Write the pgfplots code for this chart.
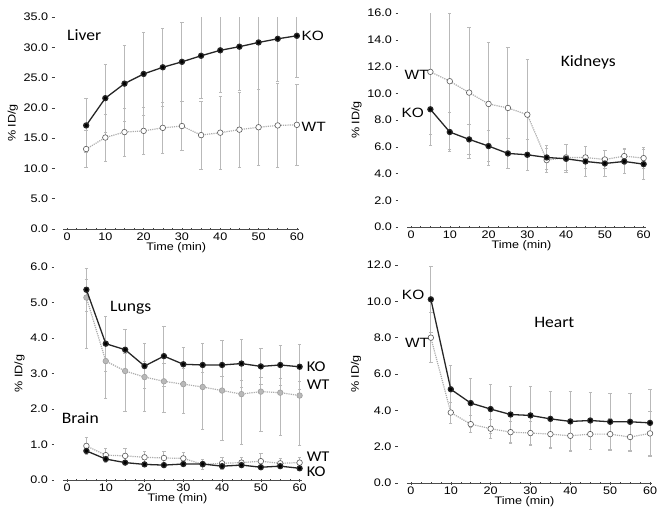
\documentclass[border=0pt]{standalone}
\usepackage{pgfplots}
\pgfplotsset{compat=1.18}
\usepackage{pgfplotstable}
\usepackage{fontspec}
\setmainfont{Liberation Sans}[FakeStretch=1.15]
\newfontfamily\carlito{Carlito}[FakeStretch=1.1]

\pgfplotstableread{
x y e
5 17.1 4.4
10 21.6 5.6
15 24.0 6.3
20 25.6 6.8
25 26.7 6.5
30 27.6 6.6
35 28.6 7.0
40 29.5 6.9
45 30.1 7.2
50 30.8 7.8
55 31.4 7.0
60 31.9 6.9
}\liverKO
\pgfplotstableread{
x y e
5 13.2 3.1
10 15.1 3.9
15 16.0 4.0
20 16.2 3.9
25 16.7 4.2
30 17.0 4.0
35 15.5 5.6
40 15.9 6.0
45 16.4 6.2
50 16.8 6.3
55 17.1 6.9
60 17.2 6.7
}\liverWT
\pgfplotstableread{
x y e
5 8.8 2.7
10 7.1 1.45
15 6.55 1.1
20 6.05 1.15
25 5.5 1.1
30 5.4 1.15
35 5.2 0.9
40 5.1 1.05
45 4.9 1.1
50 4.75 1.0
55 4.9 0.9
60 4.7 1.1
}\kidKO
\pgfplotstableread{
x y e
5 11.6 4.7
10 10.9 5.1
15 10.05 4.9
20 9.2 4.6
25 8.9 4.5
30 8.4 4.15
35 5.0 0.9
40 5.2 1.0
45 5.2 0.8
50 5.05 0.65
55 5.3 0.6
60 5.15 0.8
}\kidWT
\pgfplotstableread{
x y e
5 5.36 0.6
10 3.84 0.77
15 3.67 0.58
20 3.21 0.63
25 3.49 0.84
30 3.26 0.49
35 3.24 0.62
40 3.24 0.69
45 3.28 0.68
50 3.20 0.51
55 3.24 0.56
60 3.19 0.63
}\lungKO
\pgfplotstableread{
x y ep em
5 5.14 0.5 1.44
10 3.35 0.5 1.05
15 3.07 0.5 1.15
20 2.90 0.45 0.96
25 2.78 0.5 0.88
30 2.70 0.45 0.83
35 2.62 0.4 1.19
40 2.52 0.4 1.39
45 2.42 0.4 1.42
50 2.49 0.4 1.13
55 2.46 0.4 1.20
60 2.38 0.4 1.41
}\lungWT
\pgfplotstableread{
x y e
5 0.82 0.08
10 0.59 0.07
15 0.49 0.06
20 0.44 0.05
25 0.42 0.05
30 0.45 0.05
35 0.45 0.05
40 0.39 0.05
45 0.42 0.05
50 0.36 0.05
55 0.39 0.05
60 0.33 0.05
}\brainKO
\pgfplotstableread{
x y e
5 0.96 0.23
10 0.70 0.19
15 0.68 0.20
20 0.64 0.18
25 0.62 0.18
30 0.61 0.17
35 0.44 0.15
40 0.47 0.17
45 0.49 0.14
50 0.53 0.22
55 0.47 0.14
60 0.49 0.14
}\brainWT
\pgfplotstableread{
x y e
5 10.11 1.83
10 5.16 1.29
15 4.40 1.35
20 4.07 1.35
25 3.77 1.54
30 3.72 1.59
35 3.53 1.54
40 3.39 1.65
45 3.44 1.56
50 3.37 1.58
55 3.37 1.58
60 3.31 1.82
}\heartKO
\pgfplotstableread{
x y e
5 8.00 1.37
10 3.88 0.58
15 3.24 0.46
20 2.99 0.52
25 2.80 0.60
30 2.75 0.65
35 2.69 0.80
40 2.60 0.82
45 2.69 0.86
50 2.69 0.86
55 2.53 0.79
60 2.73 1.23
}\heartWT

\tikzset{
  lbl/.style={font=\fontsize{13.5}{15}\selectfont, inner sep=0pt},
  lblc/.style={font=\carlito\fontsize{15}{16}\selectfont, inner sep=0pt},
  ttl/.style={font=\carlito\fontsize{16}{18}\selectfont, inner sep=0pt},
}
\pgfplotsset{
  panel/.style={
    scale only axis, anchor=south west,
    xmin=-4, xmax=61, ymin=0,
    clip mode=individual,
    axis x line*=bottom, axis y line*=left,
    x axis line style={draw=none}, y axis line style={draw=none},
    xtick={0,10,...,60}, minor x tick num=3,
    xtick align=center, ytick align=inside,
    major tick length=3pt, minor tick length=2pt,
    tick style={black!75, line width=0.5pt},
    tick label style={font=\fontsize{11}{13}\selectfont},
    xticklabel style={yshift=1pt},
    /pgf/number format/assume math mode=true,
    yticklabel style={/pgf/number format/.cd, fixed, fixed zerofill, precision=1},
    xlabel={Time (min)}, ylabel={\% ID/g},
    label style={font=\fontsize{11}{13}\selectfont},
    xlabel style={yshift=5pt},
    ylabel style={yshift=-1pt},
  },
  ebar/.style={draw=none, mark=none, forget plot,
    error bars/.cd, y dir=both, y explicit,
    error bar style={draw=gray!55, solid, line width=0.9pt},
    error mark options={rotate=90, draw=gray!55, mark size=1.7pt, line width=0.7pt}},
  ko/.style={black!85, solid, line width=1.3pt, mark=*, mark size=2.5pt, mark options={solid, fill=black}},
  wt/.style={gray!65, densely dotted, line width=1.2pt, mark=*, mark size=2.8pt, mark options={solid, fill=white, draw=black!65, line width=0.6pt}},
  wtg/.style={gray!65, densely dotted, line width=1.2pt, mark=*, mark size=2.8pt, mark options={solid, fill=gray!55, draw=gray!75, line width=0.6pt}},
}

\begin{document}
\begin{tikzpicture}
\useasboundingbox (0,0) rectangle (663bp,-517bp);

% Liver
\begin{axis}[panel, at={(51.7bp,-229bp)}, width=249bp, height=212bp, ymax=35, ytick={0,5,...,35}]
\addplot[ebar] table[x=x, y=y, y error=e] {\liverKO};
\addplot[ebar] table[x=x, y=y, y error=e] {\liverWT};
\draw[black!70, line width=0.6pt] (axis cs:-1,0) -- (axis cs:60.5,0);
\addplot[wt] table[x=x, y=y] {\liverWT};
\addplot[ko] table[x=x, y=y] {\liverKO};
\node[ttl, anchor=west] at (axis cs:0,32) {Liver};
\node[lbl, anchor=west] at (axis cs:61.2,31.9) {KO};
\node[lbl, anchor=west] at (axis cs:61.2,16.8) {WT};
\end{axis}

% Kidneys
\begin{axis}[panel, at={(395.5bp,-227bp)}, width=252bp, height=214bp, ymax=16, ytick={0,2,...,16}]
\addplot[ebar] table[x=x, y=y, y error=e] {\kidWT};
\addplot[ebar] table[x=x, y=y, y error=e] {\kidKO};
\draw[black!70, line width=0.6pt] (axis cs:-1,0) -- (axis cs:60.5,0);
\addplot[wt] table[x=x, y=y] {\kidWT};
\addplot[ko] table[x=x, y=y] {\kidKO};
\node[ttl, anchor=west] at (axis cs:38.6,12.3) {Kidneys};
\node[lbl, anchor=east] at (axis cs:4.6,11.4) {WT};
\node[lbl, anchor=east] at (axis cs:3.4,8.5) {KO};
\end{axis}

% Lungs and Brain
\begin{axis}[panel, at={(51.5bp,-480bp)}, width=252bp, height=213bp, ymax=6, ytick={0,1,...,6}]
\addplot[ebar] table[x=x, y=y, y error plus=ep, y error minus=em] {\lungWT};
\addplot[ebar] table[x=x, y=y, y error=e] {\lungKO};
\addplot[ebar] table[x=x, y=y, y error=e] {\brainWT};
\addplot[ebar] table[x=x, y=y, y error=e] {\brainKO};
\draw[black!70, line width=0.6pt] (axis cs:-1,0) -- (axis cs:60.5,0);
\addplot[wtg] table[x=x, y=y] {\lungWT};
\addplot[ko] table[x=x, y=y] {\lungKO};
\addplot[wt] table[x=x, y=y] {\brainWT};
\addplot[ko] table[x=x, y=y] {\brainKO};
\node[ttl, anchor=west] at (axis cs:11.1,4.85) {Lungs};
\node[ttl, anchor=west] at (axis cs:-1.4,1.75) {Brain};
\node[lblc, anchor=west] at (axis cs:61.8,3.18) {KO};
\node[lblc, anchor=west] at (axis cs:61.8,2.68) {WT};
\node[lblc, anchor=west] at (axis cs:61.8,0.66) {WT};
\node[lblc, anchor=west] at (axis cs:61.8,0.22) {KO};
\end{axis}

% Heart
\begin{axis}[panel, at={(395bp,-483bp)}, width=259bp, height=218bp, ymax=12, ytick={0,2,...,12}]
\addplot[ebar] table[x=x, y=y, y error=e] {\heartKO};
\addplot[ebar] table[x=x, y=y, y error=e] {\heartWT};
\draw[black!70, line width=0.6pt] (axis cs:-1,0) -- (axis cs:60.5,0);
\addplot[wt] table[x=x, y=y] {\heartWT};
\addplot[ko] table[x=x, y=y] {\heartKO};
\node[ttl, anchor=west] at (axis cs:30.9,8.86) {Heart};
\node[lbl, anchor=east] at (axis cs:3.4,10.35) {KO};
\node[lbl, anchor=east] at (axis cs:4.6,7.7) {WT};
\end{axis}
\end{tikzpicture}
\end{document}
